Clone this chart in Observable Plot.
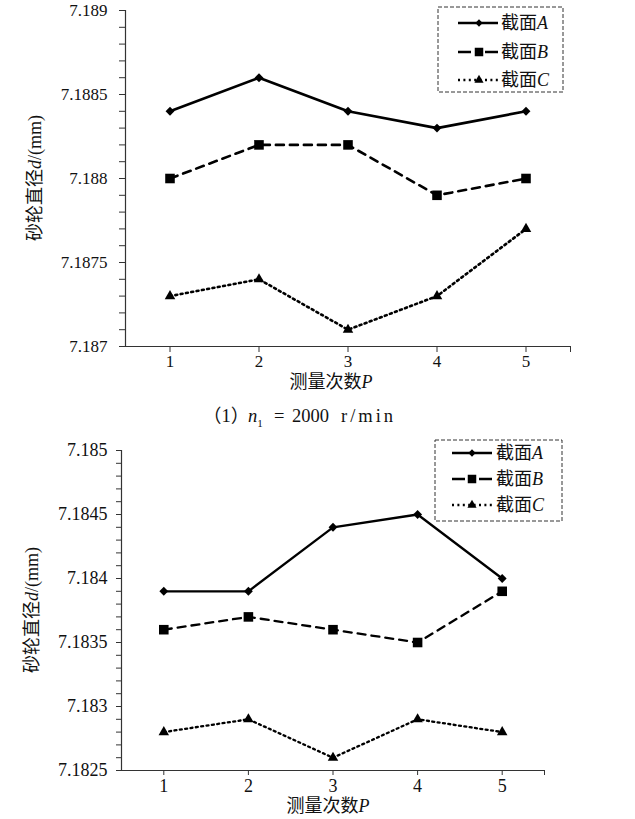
<!DOCTYPE html>
<html><head><meta charset="utf-8">
<script src="https://cdn.jsdelivr.net/npm/d3@7"></script>
<script src="https://cdn.jsdelivr.net/npm/@observablehq/plot@0.6"></script>
<style>
body{margin:0;background:#fff;}
#wrap{position:relative;width:635px;height:819px;overflow:hidden;background:#fff;font-family:"Liberation Serif","Noto Sans CJK SC",serif;}
#wrap svg{position:absolute;left:0;}
#wrap svg text{font-family:"Liberation Serif","Noto Sans CJK SC",serif;}
.cp{position:absolute;top:405px;font-size:18.5px;line-height:22px;color:#111;white-space:nowrap;font-family:"Liberation Serif","Noto Sans CJK SC",serif;}
</style></head><body><div id="wrap"></div>
<script>
// ---- data ----
const runs = [1, 2, 3, 4, 5];
const sectionNames = ["截面A", "截面B", "截面C"];
// panel (1): n1 = 2000 r/min
const top_A = [7.1884, 7.1886, 7.1884, 7.1883, 7.1884];
const top_B = [7.1880, 7.1882, 7.1882, 7.1879, 7.1880];
const top_C = [7.1873, 7.1874, 7.1871, 7.1873, 7.1877];
const topMajorTicks = [7.187, 7.1875, 7.188, 7.1885, 7.189];
const topMinorTicks = [7.1871, 7.1872, 7.1873, 7.1874, 7.1876, 7.1877, 7.1878, 7.1879,
  7.1881, 7.1882, 7.1883, 7.1884, 7.1886, 7.1887, 7.1888, 7.1889];
// panel (2)
const bot_A = [7.1839, 7.1839, 7.1844, 7.1845, 7.1840];
const bot_B = [7.1836, 7.1837, 7.1836, 7.1835, 7.1839];
const bot_C = [7.1828, 7.1829, 7.1826, 7.1829, 7.1828];
const botMajorTicks = [7.1825, 7.183, 7.1835, 7.184, 7.1845, 7.185];
const botMinorTicks = [7.1826, 7.1827, 7.1828, 7.1829, 7.1831, 7.1832, 7.1833, 7.1834,
  7.1836, 7.1837, 7.1838, 7.1839, 7.1841, 7.1842, 7.1843, 7.1844, 7.1846, 7.1847, 7.1848, 7.1849];
const xTicks = [1, 2, 3, 4, 5];
const xEndTick = [5.5];

const styles = [
  {dash: null, legendDash: null, symbol: "diamond2", r: 4.0, lr: 3.3},
  {dash: "8,6", legendDash: "13,14,13", symbol: "square", r: 5.4, lr: 4.8},
  {dash: "2,3.4", legendDash: "2,3.4", symbol: "triangle", r: 3.9, lr: 3.4}
];

function rows(series) {
  const out = [];
  series.forEach((vals, si) => vals.forEach((v, i) => out.push({run: runs[i], d: v, s: sectionNames[si]})));
  return out;
}

function panel(cfg) {
  const data = rows(cfg.series);
  const marks = [
    Plot.ruleX([0.5], {stroke: "#333", strokeWidth: 1.2}),
    Plot.ruleY([cfg.yDomain[0]], {stroke: "#333", strokeWidth: 1.2}),
    Plot.axisY(cfg.minor, {tickSize: cfg.ts, stroke: "#333", label: null, tickFormat: () => ""}),
    Plot.axisY(cfg.major, {tickSize: cfg.ts, tickPadding: cfg.ypad, stroke: "#333", fill: "#111",
      fontSize: cfg.fs, label: null, tickFormat: d => String(+d.toFixed(4))}),
    Plot.axisX(xTicks, {tickSize: cfg.ts, tickPadding: cfg.xpad, stroke: "#333", fill: "#111",
      fontSize: cfg.fs, label: null, tickFormat: d => String(d)}),
    Plot.axisX(xEndTick, {tickSize: cfg.ts, stroke: "#333", label: null, tickFormat: () => ""})
  ];
  sectionNames.forEach((name, si) => {
    const st = styles[si];
    const sub = data.filter(d => d.s === name);
    marks.push(Plot.line(sub, {x: "run", y: "d", stroke: "#000", strokeWidth: cfg.sw,
      strokeDasharray: st.dash, strokeLinejoin: "miter"}));
    marks.push(Plot.dot(sub, {x: "run", y: "d", symbol: st.symbol, r: st.r, fill: "#000", stroke: "none"}));
  });
  const svg = Plot.plot({
    width: 635, height: cfg.height,
    marginTop: cfg.mt, marginBottom: cfg.mb, marginLeft: cfg.ml, marginRight: cfg.mr,
    x: {domain: [0.5, 5.5]},
    y: {domain: cfg.yDomain},
    style: {background: "#fff", color: "#111"},
    marks
  });
  svg.style.top = cfg.top + "px";
  const s = d3.select(svg);
  // y label
  const yt = s.append("text")
    .attr("transform", `translate(${cfg.ylx},${cfg.yly}) rotate(-90)`)
    .attr("text-anchor", "middle").attr("dominant-baseline", "central")
    .attr("font-size", cfg.lfs).attr("fill", "#111");
  yt.append("tspan").text("砂轮直径");
  yt.append("tspan").attr("font-style", "italic").text("d");
  yt.append("tspan").text("/(mm)");
  // x label
  const xt = s.append("text")
    .attr("x", cfg.xlx).attr("y", cfg.xly)
    .attr("text-anchor", "middle").attr("dominant-baseline", "central")
    .attr("font-size", cfg.lfs).attr("fill", "#111");
  xt.append("tspan").text("测量次数");
  xt.append("tspan").attr("font-style", "italic").text("P");
  // legend
  const L = cfg.legend;
  const g = s.append("g").attr("text-anchor", "start");
  g.append("rect").attr("x", L.x).attr("y", L.y).attr("width", L.w).attr("height", L.h)
    .attr("fill", "#fff").attr("stroke", "#333").attr("stroke-width", 1).attr("stroke-dasharray", "4,2");
  sectionNames.forEach((name, si) => {
    const st = styles[si];
    const yy = L.rows[si];
    g.append("line").attr("x1", L.lx1).attr("x2", L.lx2).attr("y1", yy).attr("y2", yy)
      .attr("stroke", "#000").attr("stroke-width", cfg.sw)
      .attr("stroke-dasharray", st.legendDash);
    const sym = {diamond2: d3.symbolDiamond2, square: d3.symbolSquare, triangle: d3.symbolTriangle}[st.symbol];
    g.append("path").attr("d", d3.symbol(sym, Math.PI * st.lr * st.lr)())
      .attr("transform", `translate(${L.mx},${yy})`).attr("fill", "#000");
    const t = g.append("text").attr("x", L.tx).attr("y", yy).attr("dominant-baseline", "central")
      .attr("text-anchor", "start")
      .attr("font-size", cfg.lfs).attr("fill", "#111");
    t.append("tspan").text(name.slice(0, 2));
    t.append("tspan").attr("font-style", "italic").text(name.slice(2));
  });
  return svg;
}

const wrap = document.getElementById("wrap");
wrap.appendChild(panel({
  series: [top_A, top_B, top_C], yDomain: [7.187, 7.189], major: topMajorTicks, minor: topMinorTicks,
  top: 0, height: 400, mt: 10, mb: 54, ml: 125, mr: 65, ts: 6, ypad: 12, xpad: 2, fs: 17, lfs: 18, sw: 2.6,
  ylx: 35, yly: 178, xlx: 331, xly: 382,
  legend: {x: 438, y: 7, w: 125, h: 85, rows: [23, 52, 80], lx1: 458, lx2: 498, mx: 479, tx: 501}
}));
wrap.appendChild(panel({
  series: [bot_A, bot_B, bot_C], yDomain: [7.1825, 7.185], major: botMajorTicks, minor: botMinorTicks,
  top: 430, height: 389, mt: 20, mb: 49, ml: 121, mr: 91, ts: 5, ypad: 9, xpad: 4, fs: 18, lfs: 18, sw: 2.3,
  ylx: 32, yly: 180, xlx: 328, xly: 376,
  legend: {x: 435, y: 10, w: 127, h: 81, rows: [23, 49, 75], lx1: 452, lx2: 492, mx: 472, tx: 496}
}));

// caption: (1) n1 = 2000 r/min
const capParts = [
  {x: 203, html: "（1）"},
  {x: 248, html: "<i>n</i><sub style='font-size:11px'>1</sub>"},
  {x: 274, html: "="},
  {x: 292, html: "2000"},
  {x: 341, html: "<span style='letter-spacing:3px'>r/min</span>"}
];
capParts.forEach(p => {
  const el = document.createElement("div");
  el.className = "cp";
  el.style.left = p.x + "px";
  el.innerHTML = p.html;
  wrap.appendChild(el);
});
</script>
</body></html>
